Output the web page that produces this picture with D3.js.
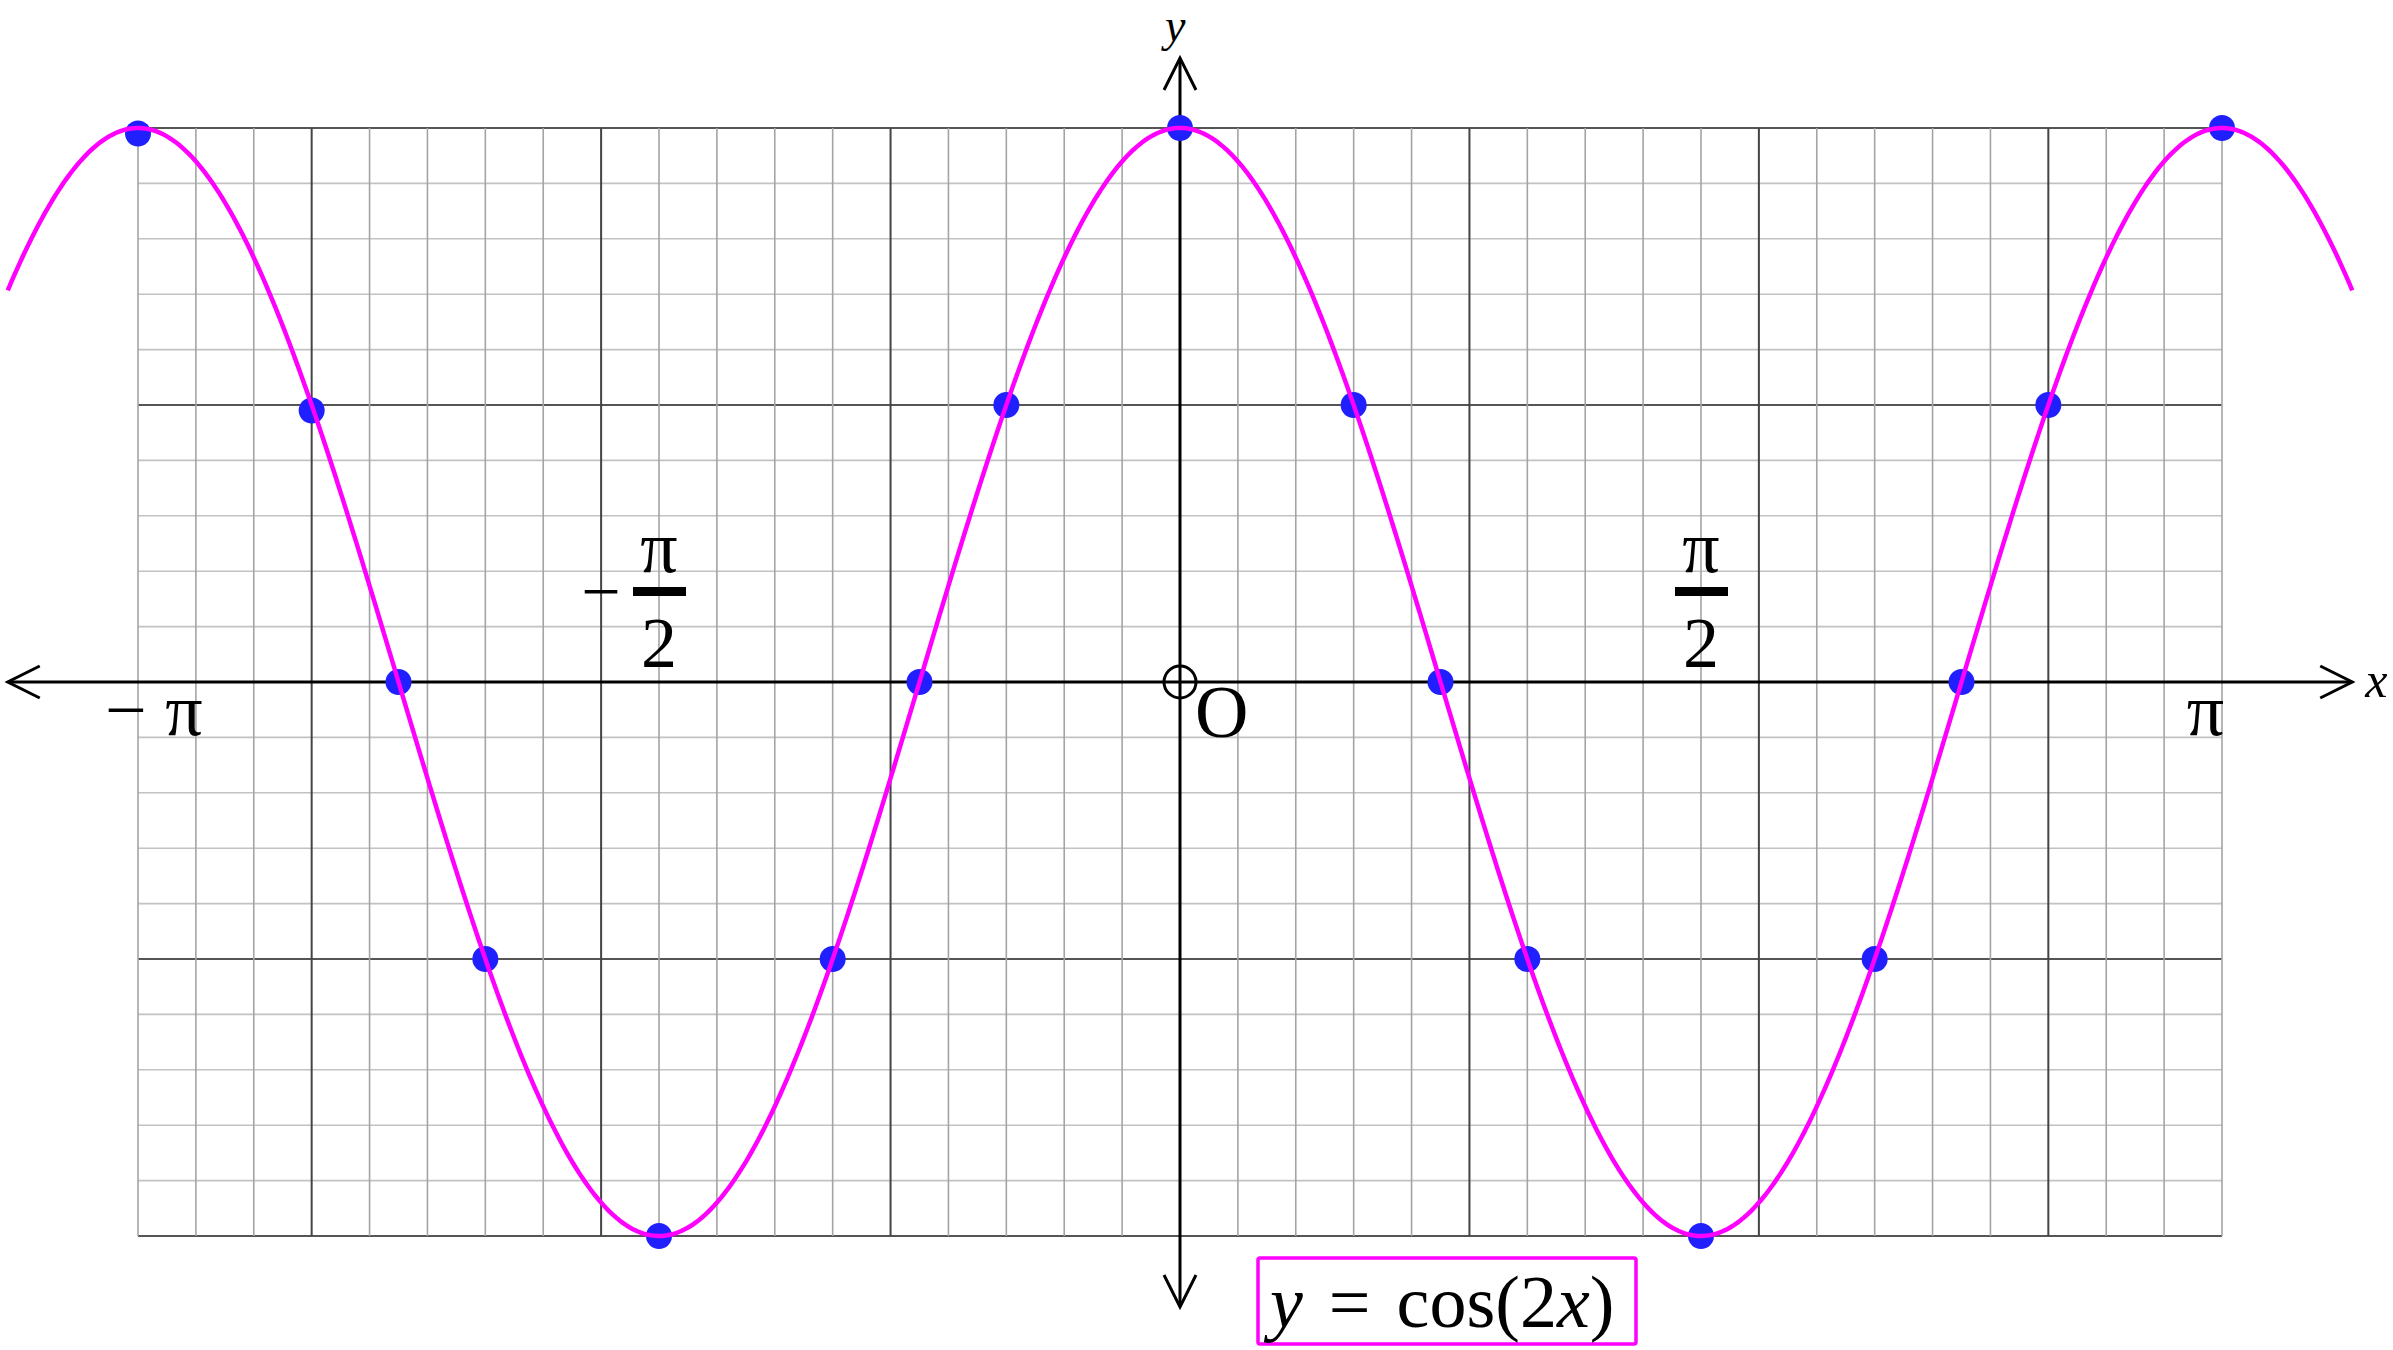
<!DOCTYPE html>
<html>
<head>
<meta charset="utf-8">
<script src="https://cdn.jsdelivr.net/npm/d3@7"></script>
<style>
    body { margin: 0; background: #fff; }
    text { font-family: "Liberation Serif", "Times New Roman", Times, serif; }
</style>
</head>
<body>
<div id="maincontent"></div>
<script>
// points marked on the curve (x in multiples of pi)
const pointsXPi = [-1, -5/6, -3/4, -2/3, -1/2, -1/3, -1/4, -1/6, 0, 1/6, 1/4, 1/3, 1/2, 2/3, 3/4, 5/6, 1];
const pointsY   = [0.99, 0.49, 0, -0.5, -1, -0.5, 0, 0.5, 1, 0.5, 0, -0.5, -1, -0.5, 0, 0.5, 1];

// grid : minor every 10 degrees / 0.1, major every 50 degrees / 0.5
const gridXDeg = d3.range(-180, 181, 10);
const gridY = d3.range(-10, 11).map(d => d / 10);

// axis labels
const xTickLabels = [
    { pi: -1, text: "\u2212 \u03c0" },
    { pi: 1, text: "\u03c0" }
];
const fracLabels = [
    { pi: -1 / 2, num: "\u03c0", den: "2", minus: true },
    { pi: 1 / 2, num: "\u03c0", den: "2", minus: false }
];
const curveRange = [-9 / 8, 9 / 8]; // the curve goes a bit past the grid
const f = x => Math.cos(2 * x);  // y = cos(2x)

const width = 2393, height = 1350;

const svg = d3.select("#maincontent").append("svg")
    .attr("width", width)
    .attr("height", height);

const x = d3.scaleLinear()
    .domain([-Math.PI, Math.PI])
    .range([138, 2222]);

const y = d3.scaleLinear()
    .domain([-1, 1])
    .range([1236, 128]);

const deg = d => d * Math.PI / 180;

// ---- grid ----
const grid = svg.append("g").attr("class", "grid");

grid.selectAll(".hline")
    .data(gridY)
    .enter().append("line")
        .attr("class", "hline")
        .attr("x1", x(-Math.PI)).attr("x2", x(Math.PI))
        .attr("y1", d => y(d)).attr("y2", d => y(d))
        .attr("stroke", d => Math.round(d * 10) % 5 === 0 ? "#555" : "#c2c2c2")
        .attr("stroke-width", d => Math.round(d * 10) % 5 === 0 ? 2 : 1.6);

grid.selectAll(".vline")
    .data(gridXDeg)
    .enter().append("line")
        .attr("class", "vline")
        .attr("x1", d => x(deg(d))).attr("x2", d => x(deg(d)))
        .attr("y1", y(1)).attr("y2", y(-1))
        .attr("stroke", d => d % 50 === 0 ? "#444" : "#a4a4a4")
        .attr("stroke-width", d => d % 50 === 0 ? 2 : 1.6);

// ---- axes with open arrows ----
const axes = svg.append("g")
    .attr("stroke", "#000")
    .attr("stroke-width", 3)
    .attr("fill", "none");

const xl = x(curveRange[0] * Math.PI), xr = x(curveRange[1] * Math.PI);
const yt = 58, yb = 1307;

axes.append("line")
    .attr("x1", xl).attr("x2", xr)
    .attr("y1", y(0)).attr("y2", y(0));
axes.append("line")
    .attr("x1", x(0)).attr("x2", x(0))
    .attr("y1", yt).attr("y2", yb);

const arrowLen = 32, arrowHalf = 16;
axes.append("path").attr("d", `M${xr - arrowLen},${y(0) - arrowHalf}L${xr},${y(0)}L${xr - arrowLen},${y(0) + arrowHalf}`);
axes.append("path").attr("d", `M${xl + arrowLen},${y(0) - arrowHalf}L${xl},${y(0)}L${xl + arrowLen},${y(0) + arrowHalf}`);
axes.append("path").attr("d", `M${x(0) - arrowHalf},${yt + arrowLen}L${x(0)},${yt}L${x(0) + arrowHalf},${yt + arrowLen}`);
axes.append("path").attr("d", `M${x(0) - arrowHalf},${yb - arrowLen}L${x(0)},${yb}L${x(0) + arrowHalf},${yb - arrowLen}`);

// origin circle
axes.append("circle")
    .attr("cx", x(0)).attr("cy", y(0))
    .attr("r", 16);

// ---- points ----
svg.append("g").selectAll("circle")
    .data(pointsXPi.map((p, i) => [p * Math.PI, pointsY[i]]))
    .enter().append("circle")
        .attr("cx", d => x(d[0]))
        .attr("cy", d => y(d[1]))
        .attr("r", 13)
        .attr("fill", "#2020ff");

// ---- curve (drawn over the points) ----
const samples = d3.range(0, 801).map(i => {
    const t = (curveRange[0] + (curveRange[1] - curveRange[0]) * i / 800) * Math.PI;
    return [t, f(t)];
});

svg.append("path")
    .datum(samples)
    .attr("fill", "none")
    .attr("stroke", "#ff00ff")
    .attr("stroke-width", 4.5)
    .attr("d", d3.line().x(d => x(d[0])).y(d => y(d[1])));

// ---- labels ----
const labels = svg.append("g").attr("fill", "#000");

labels.append("text")
    .attr("x", xr + 13).attr("y", y(0) + 15)
    .attr("font-size", 50)
    .attr("font-style", "italic")
    .text("x");

labels.append("text")
    .attr("x", x(0) - 15).attr("y", 41)
    .attr("font-size", 46)
    .attr("font-style", "italic")
    .text("y");

labels.append("text")
    .attr("x", x(0) + 15).attr("y", y(0) + 55)
    .attr("font-size", 74)
    .text("O");

labels.selectAll(".xtick")
    .data(xTickLabels)
    .enter().append("text")
        .attr("class", "xtick")
        .attr("x", d => d.pi < 0 ? x(d.pi * Math.PI) - 33 : x(d.pi * Math.PI) + 2)
        .attr("y", y(0) + 53)
        .attr("text-anchor", d => d.pi < 0 ? "start" : "end")
        .attr("font-size", 74)
        .text(d => d.text);

const frac = labels.selectAll(".frac")
    .data(fracLabels)
    .enter().append("g")
        .attr("class", "frac")
        .attr("transform", d => `translate(${x(d.pi * Math.PI)},0)`);

frac.append("text")
    .attr("y", 572)
    .attr("text-anchor", "middle")
    .attr("font-size", 74)
    .text(d => d.num);

frac.append("rect")
    .attr("x", -26).attr("width", 53)
    .attr("y", 587).attr("height", 9);

frac.append("text")
    .attr("y", 667)
    .attr("text-anchor", "middle")
    .attr("font-size", 72)
    .text(d => d.den);

frac.filter(d => d.minus).append("text")
    .attr("x", -58)
    .attr("y", 615)
    .attr("text-anchor", "middle")
    .attr("font-size", 70)
    .text("\u2212");

// ---- legend box ----
const legend = svg.append("g").attr("id", "legend");

legend.append("rect")
    .attr("x", 1258).attr("y", 1258)
    .attr("width", 378).attr("height", 86)
    .attr("rx", 2)
    .attr("fill", "none")
    .attr("stroke", "#ff00ff")
    .attr("stroke-width", 3.5);

const lt = legend.append("text")
    .attr("x", 1270).attr("y", 1327)
    .attr("font-size", 74);
lt.append("tspan").attr("font-style", "italic").text("y");
lt.append("tspan").attr("dx", 26).text("=");
lt.append("tspan").attr("dx", 26).text("cos(2");
lt.append("tspan").attr("font-style", "italic").text("x");
lt.append("tspan").text(")");
</script>
</body>
</html>
